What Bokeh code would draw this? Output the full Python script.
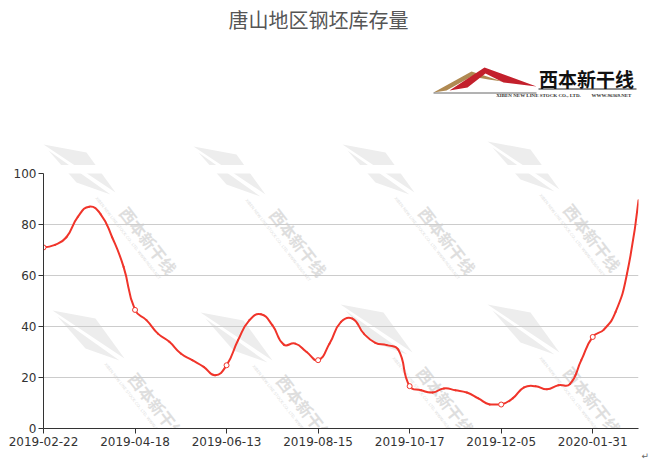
import numpy as np
from bokeh.plotting import figure
from bokeh.models import Range1d, FixedTicker, Label, PolyAnnotation
from bokeh.layouts import column, row
from bokeh.core.properties import value
from bokeh.embed import file_html
from bokeh.resources import INLINE

# ---------------- data ----------------
dates = [
    "2019-02-22", "2019-03-01", "2019-03-08", "2019-03-15", "2019-03-22", "2019-03-29", "2019-04-04", "2019-04-11",
    "2019-04-18", "2019-04-25", "2019-04-30", "2019-05-09", "2019-05-16", "2019-05-23", "2019-05-30", "2019-06-06",
    "2019-06-13", "2019-06-20", "2019-06-27", "2019-07-04", "2019-07-11", "2019-07-18", "2019-07-25", "2019-08-08",
    "2019-08-15", "2019-08-22", "2019-08-29", "2019-09-05", "2019-09-12", "2019-09-19", "2019-09-26", "2019-10-10",
    "2019-10-17", "2019-10-24", "2019-10-31", "2019-11-07", "2019-11-14", "2019-11-21", "2019-11-26", "2019-11-28",
    "2019-12-05", "2019-12-12", "2019-12-19", "2019-12-26", "2020-01-02", "2020-01-09", "2020-01-16", "2020-01-23",
    "2020-01-31", "2020-02-07", "2020-02-14", "2020-02-21", "2020-02-28",
]
stock = [
    71, 72, 75, 83, 87, 84, 75, 63.4,
    46.5, 42.5, 37.2, 34, 29.4, 26.8, 24.2, 20.9,
    24.8, 34.6, 42.5, 44.8, 40.5, 32.9, 33.3, 30,
    26.8, 33.3, 41.8, 43.1, 37.2, 33.6, 32.7, 31,
    16.6, 15, 14.1, 15.7, 15, 14.1, 11.8, 9.4,
    9.4, 11.8, 16.1, 16.6, 15.4, 17, 17.4, 26.8,
    35.9, 38.9, 45.7, 60.8, 89.5,
]
label_step = 8
y_ticks = [0, 20, 40, 60, 80, 100]
title_text = "唐山地区钢坯库存量"
logo_text = "西本新干线"
logo_sub1 = "XIBEN NEW LINE STOCK CO., LTD."
logo_sub2 = "WWW.96369.NET"

RED = "#f0342a"
PAGE_W, PAGE_H = 652, 461
TOP_H = 165                      # header figure height
CH_W = 640                       # chart figure width
SIDE_W = PAGE_W - CH_W
CH_H = PAGE_H - TOP_H
BL, BR, BT, BB = 43, CH_W - 638, 173 - TOP_H, PAGE_H - 428
FW, FH = CH_W - BL - BR, CH_H - BT - BB

WM_TEXT = "#dedede"
WM_FILL = "#ededed"
wm_centers = [(148, 240), (298, 242), (447, 240), (592, 237),
              (157, 406), (305, 408), (445, 400), (592, 400)]
wm_tris = [[(-105, -96), (-62, -88), (-33, -48)],
           [(-100, -90), (-72, -58), (-38, -46)]]

n = len(stock)
xs = np.arange(n)

# ================= header figure (pixel coordinates) =================
top = figure(width=PAGE_W, height=TOP_H, output_backend="svg", toolbar_location=None,
             x_range=Range1d(0, PAGE_W), y_range=Range1d(TOP_H, 0),
             x_axis_type=None, y_axis_type=None, min_border=0)
top.outline_line_color = None
top.grid.visible = False
top.background_fill_color = "white"
top.border_fill_color = "white"

# watermark wedge tips that poke above the chart area
wx, wy = [], []
for cx, cy in wm_centers:
    for tri in wm_tris:
        wx.append([cx + dx for dx, dy in tri])
        wy.append([cy + dy for dx, dy in tri])
top.patches(xs=wx, ys=wy, fill_color=WM_FILL, line_color=None)

# title
top.text(x=[318], y=[19], text=[title_text], text_align="center", text_baseline="middle",
         text_font=value("Noto Sans CJK SC"), text_font_size="20px", text_color="#555555")

# logo
gold = [(433, 92), (471, 71), (502, 81), (488, 79), (471, 76), (446, 90)]
red = [(449, 90), (484, 67), (536, 86), (503, 82), (485, 73), (467, 87)]
top.patches(xs=[[a for a, b in gold], [a for a, b in red]],
            ys=[[b for a, b in gold], [b for a, b in red]],
            fill_color=["#b08a52", "#c3202c"], line_color=None)
top.segment(x0=[433, 538], y0=[92.5, 88.5], x1=[536, 636], y1=[92.5, 88.5],
            line_color=["#666666", "#222222"], line_width=1)
top.text(x=[586], y=[78], text=[logo_text], text_align="center", text_baseline="middle",
         text_font=value("Noto Sans CJK SC"), text_font_style="bold", text_font_size="19px",
         text_color="#111111")
top.text(x=[538, 611], y=[95, 95], text=[logo_sub1, logo_sub2], text_align="center",
         text_baseline="middle", text_font=value("Liberation Serif"), text_font_style="bold",
         text_font_size="5px", text_color="#333333")

# ================= chart figure =================
p = figure(width=CH_W, height=CH_H, output_backend="svg", toolbar_location=None,
           x_range=Range1d(0, n - 1), y_range=Range1d(0, 100),
           min_border_left=BL, min_border_right=BR, min_border_top=BT, min_border_bottom=BB)
p.outline_line_color = None
p.background_fill_color = "white"
p.border_fill_color = "white"
p.xgrid.grid_line_color = None
p.ygrid.grid_line_color = "#cccccc"
p.ygrid.grid_line_width = 1

p.yaxis.ticker = FixedTicker(ticks=y_ticks)
label_idx = list(range(0, n, label_step))
p.xaxis.ticker = FixedTicker(ticks=label_idx)
p.xaxis.major_label_overrides = {i: dates[i] for i in label_idx}
for ax in (p.xaxis, p.yaxis):
    ax.axis_line_color = "#333333"
    ax.major_tick_line_color = "#333333"
    ax.major_tick_out = 5
    ax.major_tick_in = 0
    ax.minor_tick_line_color = None
    ax.major_label_text_font = "DejaVu Sans"
    ax.major_label_text_font_size = "12px"
    ax.major_label_text_color = "#333333"
p.yaxis.major_label_standoff = 2
p.xaxis.major_label_standoff = 3


def scr(sx, sy):
    # page pixel coords -> frame "screen" units
    return sx - 43, 428 - sy


for cx, cy in wm_centers:
    for tri in wm_tris:
        pts = [scr(cx + dx, cy + dy) for dx, dy in tri]
        p.add_layout(PolyAnnotation(xs=[a for a, b in pts], ys=[b for a, b in pts],
                                    xs_units="screen", ys_units="screen",
                                    fill_color=WM_FILL, fill_alpha=1, line_color=None, level="image"))
    x, y = scr(cx, cy)
    p.add_layout(Label(x=x, y=y, x_units="screen", y_units="screen", text=logo_text,
                       angle=-52, angle_units="deg", text_align="center", text_baseline="middle",
                       text_font="Noto Sans CJK SC", text_font_style="bold", text_font_size="16px",
                       text_color=WM_TEXT, level="image"))
    x, y = scr(cx - 20, cy - 2)
    p.add_layout(Label(x=x, y=y, x_units="screen", y_units="screen",
                       text=logo_sub1 + "  " + logo_sub2,
                       angle=-52, angle_units="deg", text_align="center", text_baseline="middle",
                       text_font="DejaVu Sans", text_font_size="4px",
                       text_color=WM_TEXT, level="image"))

# smooth line (ECharts-style bezier through the data points)
sxu = FW / (n - 1)
syu = FH / 100.0
P = np.column_stack([xs * sxu, np.array(stock, dtype=float) * syu])
mn, mx = P.min(axis=0), P.max(axis=0)
smooth = 0.5
x0s, y0s, x1s, y1s, c0x, c0y, c1x, c1y = ([] for _ in range(8))
cp0 = P[0].copy()
for i in range(1, n):
    pt = P[i]
    prevP = P[i - 1]
    if i + 1 < n:
        nextP = P[i + 1]
        v = nextP - prevP
        lp = np.linalg.norm(pt - prevP)
        ln = np.linalg.norm(pt - nextP)
        r = ln / (ln + lp)
        cp1 = pt - v * smooth * (1 - r)
    else:
        v = None
        cp1 = pt.copy()
    a = np.clip(cp0, mn, mx)
    b = np.clip(cp1, mn, mx)
    x0s.append(prevP[0] / sxu); y0s.append(prevP[1] / syu)
    x1s.append(pt[0] / sxu); y1s.append(pt[1] / syu)
    c0x.append(a[0] / sxu); c0y.append(a[1] / syu)
    c1x.append(b[0] / sxu); c1y.append(b[1] / syu)
    if v is not None:
        cp0 = pt + v * smooth * r

p.bezier(x0=x0s, y0=y0s, x1=x1s, y1=y1s, cx0=c0x, cy0=c0y, cx1=c1x, cy1=c1y,
         line_color=RED, line_width=2, line_cap="round")
p.scatter(x=[xs[i] for i in label_idx], y=[stock[i] for i in label_idx], size=5,
          marker="circle", fill_color="white", line_color=RED, line_width=1)

# ================= narrow side strip (paragraph mark) =================
side = figure(width=SIDE_W, height=CH_H, output_backend="svg", toolbar_location=None,
              x_range=Range1d(CH_W, PAGE_W), y_range=Range1d(PAGE_H, TOP_H),
              x_axis_type=None, y_axis_type=None, min_border=0)
side.outline_line_color = None
side.grid.visible = False
side.text(x=[641], y=[455], text=["↵"], text_align="left", text_baseline="middle",
          text_font=value("DejaVu Sans"), text_font_size="9px", text_color="#666666")

layout = column(top, row(p, column(side), spacing=0), spacing=0)
open("out.html", "w").write(file_html(layout, INLINE))
